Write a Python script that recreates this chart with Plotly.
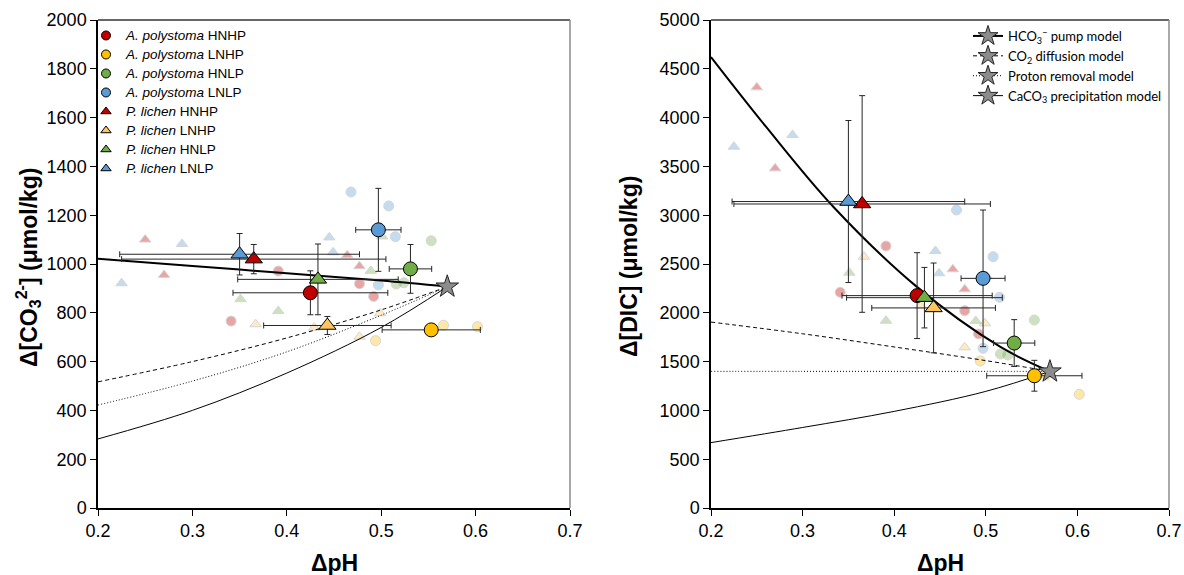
import plotly.graph_objects as go

# ---------------- data ----------------
series_names = ["<i>A. polystoma</i> HNHP", "<i>A. polystoma</i> LNHP",
                "<i>A. polystoma</i> HNLP", "<i>A. polystoma</i> LNLP",
                "<i>P. lichen</i> HNHP", "<i>P. lichen</i> LNHP",
                "<i>P. lichen</i> HNLP", "<i>P. lichen</i> LNLP"]
series_symbols = ["circle"] * 4 + ["triangle-up"] * 4
series_colors = ["#C00000", "#FFC000", "#70AD47", "#5B9BD5",
                 "#C00000", "#FFC55C", "#70AD47", "#5B9BD5"]

# replicate (faded) points: dpH, dCO3, dDIC
rep_ph = [[0.391, 0.341, 0.477, 0.492],
          [0.494, 0.566, 0.602],
          [0.553, 0.516, 0.524],
          [0.468, 0.508, 0.515, 0.497],
          [0.250, 0.270, 0.464, 0.477],
          [0.367, 0.429, 0.477, 0.499],
          [0.351, 0.391, 0.489, 0.501],
          [0.225, 0.289, 0.445, 0.449]]
rep_co3 = [[971, 766, 919, 867],
           [686, 749, 743],
           [1095, 918, 923],
           [1295, 1238, 1112, 914],
           [1100, 955, 1036, 991],
           [753, 739, 702, 798],
           [856, 807, 972, 1113],
           [921, 1082, 1109, 1048]]
rep_dic = [[2684, 2210, 2022, 1783],
           [1506, 1363, 1165],
           [1926, 1578, 1568],
           [3053, 2575, 2159, 1636],
           [4310, 3480, 2446, 2241],
           [2575, 2071, 1646, 1892],
           [2411, 1919, 1916, 2374],
           [3702, 3822, 2633, 2405]]

# means with errors
mean_ph = [0.425, 0.553, 0.531, 0.497, 0.365, 0.443, 0.433, 0.350]
err_ph = [0.082, 0.052, 0.0225, 0.024, 0.140, 0.0675, 0.085, 0.127]
mean_co3 = [882, 730, 980, 1140, 1020, 748, 937, 1040]
err_co3 = [90, 15, 100, 170, 60, 37, 145, 85]
mean_dic = [2176, 1355, 1690, 2353, 3115, 2050, 2155, 3140]
err_dic = [440, 158, 240, 700, 1110, 460, 310, 830]

# model curves
model_names = ["HCO<sub>3</sub><sup>−</sup> pump model", "CO<sub>2</sub> diffusion model",
               "Proton removal model", "CaCO<sub>3</sub> precipitation model"]
model_dash = ["solid", "4px,3px", "1px,2px", "solid"]
model_width = [2, 1, 1, 1]

m_ph = [0.2, 0.3, 0.4, 0.5, 0.57]
m_co3 = [[1022, 992, 962, 932, 907],
         [517, 600, 697, 812, 907],
         [422, 520, 640, 790, 907],
         [283, 400, 553, 740, 907]]
hco3_dic_ph = [0.2, 0.26, 0.3335, 0.4245, 0.5155, 0.57]
hco3_dic = [4620, 3907, 3087, 2268, 1653, 1400]
m_dic = [[1905, 1785, 1650, 1510, 1400],
         [1400, 1400, 1400, 1400, 1400],
         [670, 825, 990, 1195, 1400]]

star_ph = [0.57]
star_co3 = [907]
star_dic = [1398]

# ---------------- figure ----------------
fig = go.Figure()
W, H = 1184, 575

def faded(ax, xs, ys, i):
    fig.add_trace(go.Scatter(
        x=xs, y=ys, mode="markers", xaxis=ax[0], yaxis=ax[1], showlegend=False,
        marker=dict(symbol=series_symbols[i], size=10, color=series_colors[i],
                    opacity=0.35, line=dict(color="#8a8a8a", width=1))))

for i in range(8):
    faded(("x", "y"), rep_ph[i], rep_co3[i], i)
    faded(("x2", "y2"), rep_ph[i], rep_dic[i], i)

# model lines left
for k in range(4):
    fig.add_trace(go.Scatter(x=m_ph, y=m_co3[k], mode="lines", xaxis="x", yaxis="y",
                             showlegend=False, line=dict(color="black", width=model_width[k],
                                                         dash=model_dash[k], shape="spline")))
# model lines right
fig.add_trace(go.Scatter(x=hco3_dic_ph, y=hco3_dic, mode="lines", xaxis="x2", yaxis="y2",
                         showlegend=False, line=dict(color="black", width=2, shape="spline")))
for k in range(3):
    fig.add_trace(go.Scatter(x=m_ph, y=m_dic[k], mode="lines", xaxis="x2", yaxis="y2",
                             showlegend=False, line=dict(color="black", width=model_width[k + 1],
                                                         dash=model_dash[k + 1], shape="spline")))

# means with error bars
def main_pt(ax, x, y, ex, ey, i):
    fig.add_trace(go.Scatter(
        x=[x], y=[y], mode="markers", xaxis=ax[0], yaxis=ax[1], showlegend=False,
        error_x=dict(type="data", array=[ex], color="#262626", thickness=1, width=3),
        error_y=dict(type="data", array=[ey], color="#262626", thickness=1, width=3),
        marker=dict(symbol=series_symbols[i], size=15 if i >= 4 else 14,
                    color=series_colors[i], line=dict(color="black", width=1))))

for i in range(8):
    main_pt(("x", "y"), mean_ph[i], mean_co3[i], err_ph[i], err_co3[i], i)
    main_pt(("x2", "y2"), mean_ph[i], mean_dic[i], err_ph[i], err_dic[i], i)

star_marker = dict(symbol="star", size=17, color="#8C8C8C", line=dict(color="#262626", width=1))
fig.add_trace(go.Scatter(x=star_ph, y=star_co3, mode="markers", xaxis="x", yaxis="y",
                         showlegend=False, marker=star_marker))
fig.add_trace(go.Scatter(x=star_ph, y=star_dic, mode="markers", xaxis="x2", yaxis="y2",
                         showlegend=False, marker=star_marker))

# legend entries
for i in range(8):
    fig.add_trace(go.Scatter(x=[None], y=[None], mode="markers",
                             name='<span style="font-size:13.5px">' + series_names[i] + '</span>',
                             legend="legend",
                             marker=dict(symbol=series_symbols[i], size=9, color=series_colors[i],
                                         line=dict(color="black", width=1))))
for k in range(4):
    fig.add_trace(go.Scatter(x=[None], y=[None], mode="lines+markers", name=model_names[k],
                             legend="legend2", xaxis="x2", yaxis="y2",
                             line=dict(color="black", width=model_width[k], dash=model_dash[k]),
                             marker=dict(symbol="star", size=15, color="#8C8C8C",
                                         line=dict(color="#262626", width=1))))

tickfont_x = dict(family="Liberation Sans Narrow, Liberation Sans, Arial", size=18, color="black")
tickfont_y = dict(family="Liberation Sans, Arial", size=18, color="black")

def xaxis(domain, anchor):
    return dict(domain=domain, anchor=anchor, range=[0.2, 0.7], tickvals=[0.2, 0.3, 0.4, 0.5, 0.6, 0.7],
                ticktext=["0.2", "0.3", "0.4", "0.5", "0.6", "0.7"],
                showline=True, linecolor="black", linewidth=1.5, ticks="outside", ticklen=6,
                tickcolor="black", showgrid=False, zeroline=False, tickfont=tickfont_x,
                automargin=False)

def yaxis(rng, dt, anchor):
    return dict(range=rng, dtick=dt, anchor=anchor, domain=[0, 1], showline=True,
                linecolor="black", linewidth=1.5, ticks="outside", ticklen=6, tickcolor="black",
                showgrid=False, zeroline=False, tickfont=tickfont_y, automargin=False)

fig.update_layout(
    width=W, height=H, template="none",
    margin=dict(l=0, r=0, t=20, b=67),
    paper_bgcolor="white", plot_bgcolor="white",
    xaxis=xaxis([98 / W, 570 / W], "y"),
    yaxis=yaxis([0, 2000], 200, "x"),
    xaxis2=xaxis([711 / W, 1169 / W], "y2"),
    yaxis2=yaxis([0, 5000], 500, "x2"),
    legend=dict(x=86 / W, y=0.998, xanchor="left", yanchor="top", bgcolor="rgba(0,0,0,0)",
                font=dict(family="Liberation Sans, Arial", size=11.8, color="black"),
                tracegroupgap=0),
    legend2=dict(x=968 / W, y=0.998, xanchor="left", yanchor="top", bgcolor="rgba(0,0,0,0)",
                 font=dict(family="Lato, Open Sans, sans-serif", size=13, color="black")),
    showlegend=True,
)

# frame: top (black) and right (gray)
for xr, yr in (("x domain", "y domain"), ("x2 domain", "y2 domain")):
    fig.add_shape(type="line", xref=xr, yref=yr, x0=0, x1=1, y0=1, y1=1,
                  line=dict(color="#333333", width=1.5))
    fig.add_shape(type="line", xref=xr, yref=yr, x0=1, x1=1, y0=0, y1=1,
                  line=dict(color="#8c8c8c", width=1.5))

title_font = dict(family="Liberation Sans, Arial", size=23, color="black")
fig.add_annotation(text="<b>Δ[CO<sub>3</sub><sup>2-</sup>] (μmol/kg)</b>", xref="paper", yref="paper",
                   x=28 / W, y=(508 - 267) / 488, textangle=-90, showarrow=False, font=title_font,
                   xanchor="center", yanchor="middle")
fig.add_annotation(text="<b>Δ[DIC] (μmol/kg)</b>", xref="paper", yref="paper",
                   x=629 / W, y=(508 - 267) / 488, textangle=-90, showarrow=False, font=title_font,
                   xanchor="center", yanchor="middle")
for cx in (334, 940):
    fig.add_annotation(text="<b>ΔpH</b>", xref="paper", yref="paper", x=cx / W,
                       y=(508 - 563) / 488, showarrow=False, font=title_font,
                       xanchor="center", yanchor="middle")

fig.write_html("out.html")
